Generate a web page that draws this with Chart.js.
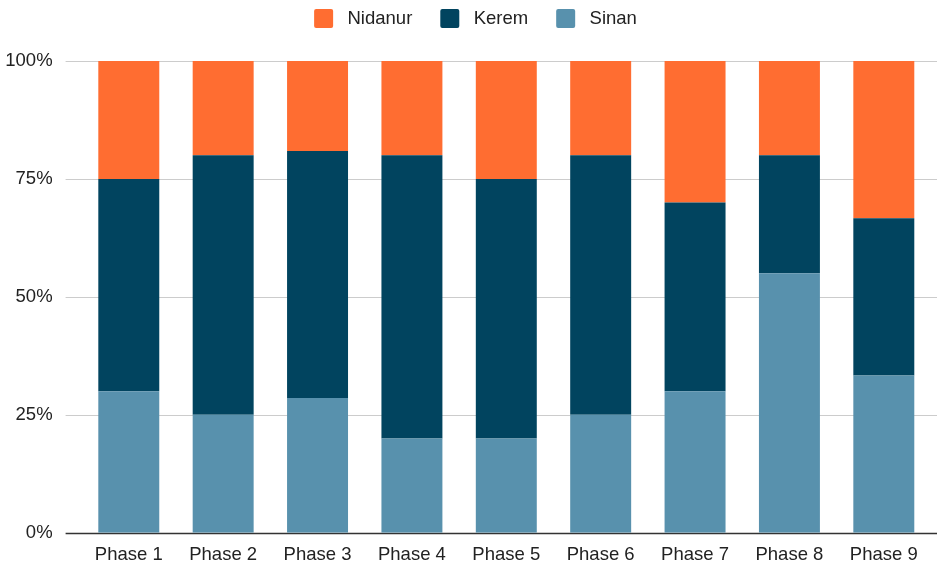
<!DOCTYPE html>
<html>
<head>
<meta charset="utf-8">
<script src="https://cdn.jsdelivr.net/npm/chart.js@4"></script>
<style>
  html, body { margin: 0; padding: 0; background: #fff; }
  #wrap { width: 937px; height: 568px; }
</style>
</head>
<body>
<div id="wrap"><canvas id="chart"></canvas></div>
<script>
const phases = ['Phase 1', 'Phase 2', 'Phase 3', 'Phase 4', 'Phase 5', 'Phase 6', 'Phase 7', 'Phase 8', 'Phase 9'];
// shares in percent, bottom to top: Sinan, Kerem, Nidanur
const sinan   = [30, 25, 28.57, 20, 20, 25, 30, 55, 33.33];
const kerem   = [45, 55, 52.38, 60, 55, 55, 40, 25, 33.33];
const nidanur = [25, 20, 19.05, 20, 25, 20, 30, 20, 33.34];
const yTicks = [0, 25, 50, 75, 100];

Chart.defaults.font.family = "'Liberation Sans', Arial, sans-serif";
Chart.defaults.color = '#222';

// horizontal grid lines reach past the plot area like in the original
const gridLines = {
    id: 'gridLines',
    beforeDatasetsDraw(chart) {
        const { ctx, scales: { y }, chartArea } = chart;
        ctx.save();
        y.ticks.forEach(t => {
            const py = Math.round(y.getPixelForValue(t.value)) + 0.5;
            ctx.beginPath();
            ctx.strokeStyle = t.value === 0 ? '#333' : '#cccccc';
            ctx.lineWidth = t.value === 0 ? 1.5 : 1;
            ctx.moveTo(chartArea.left - 16, py);
            ctx.lineTo(chart.width, py);
            ctx.stroke();
        });
        ctx.restore();
    }
};

// extra room under the legend, and nudge it a bit to the right
const legendTweak = {
    id: 'legendTweak',
    afterInit(chart) {
        const lg = chart.legend;
        if (!lg) return;
        const fit = lg.fit;
        lg.fit = function () {
            fit.call(this);
            this.height += 23;
        };
        const draw = lg.draw;
        lg.draw = function () {
            this.ctx.save();
            this.ctx.translate(10, 0);
            draw.apply(this, arguments);
            this.ctx.restore();
        };
    }
};

const defaultLabels = Chart.defaults.plugins.legend.labels.generateLabels;

new Chart(document.getElementById('chart'), {
    type: 'bar',
    data: {
        labels: phases,
        datasets: [
            { label: 'Sinan', data: sinan, backgroundColor: '#5891AD' },
            { label: 'Kerem', data: kerem, backgroundColor: '#01445F' },
            { label: 'Nidanur', data: nidanur, backgroundColor: '#FF6D31' }
        ].map(d => ({ ...d, categoryPercentage: 0.646, barPercentage: 1, borderWidth: 0 }))
    },
    options: {
        responsive: true,
        maintainAspectRatio: false,
        animation: false,
        layout: { padding: { top: -19, right: 6, bottom: -1, left: 0 } },
        plugins: {
            legend: {
                position: 'top',
                labels: {
                    boxWidth: 19,
                    boxHeight: 19,
                    useBorderRadius: true,
                    borderRadius: 2,
                    padding: 28,
                    font: { size: 18.5 },
                    color: '#222',
                    // a little more space between the swatch and its name
                    generateLabels: chart => defaultLabels(chart).map(l => ({ ...l, text: ' ' + l.text })),
                    sort: (a, b) => b.datasetIndex - a.datasetIndex
                }
            },
            tooltip: { enabled: false }
        },
        scales: {
            x: {
                stacked: true,
                grid: { display: false },
                border: { display: false },
                ticks: { font: { size: 18.5 }, color: '#222', padding: 3 }
            },
            y: {
                stacked: true,
                min: 0,
                max: 100,
                afterBuildTicks: s => { s.ticks = yTicks.map(v => ({ value: v })); },
                afterFit: s => { s.width = 81.6; },
                grid: { display: false },
                border: { display: false },
                ticks: {
                    font: { size: 18.5 },
                    color: '#222',
                    padding: 21,
                    callback: v => v + '%'
                }
            }
        }
    },
    plugins: [gridLines, legendTweak]
});
</script>
</body>
</html>
